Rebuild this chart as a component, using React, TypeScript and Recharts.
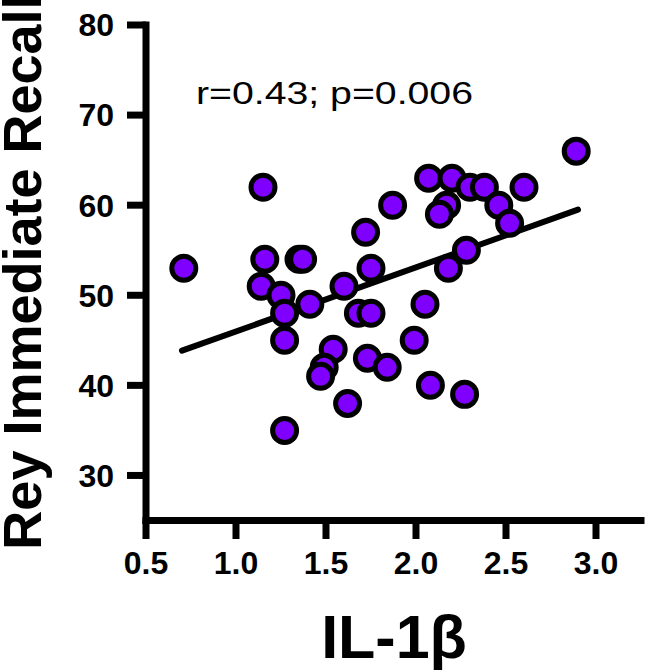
import React from "react";
import {
  ScatterChart,
  Scatter,
  XAxis,
  YAxis,
  Customized,
} from "recharts";

// IL-1β values (x) and Rey Immediate Recall scores (y)
const il1bValues = [
  1.15, 0.71, 1.16, 1.35, 1.37, 1.14, 1.25, 1.27, 1.27, 1.41,
  1.6, 1.72, 1.75, 1.68, 1.75, 1.54, 1.49, 1.47, 1.73, 1.62,
  1.27, 2.89, 2.07, 2.2, 2.3, 2.38, 2.6, 2.17, 2.13, 2.46,
  2.52, 1.87, 2.28, 2.18, 2.05, 1.99, 1.84, 2.08, 2.27,
];
const reyValues = [
  62, 53, 54, 54, 54, 51, 50, 48, 45, 49,
  51, 57, 53, 48, 48, 44, 42, 41, 43, 38,
  35, 66, 63, 63, 62, 62, 62, 60, 59, 60,
  58, 60, 55, 53, 49, 45, 42, 40, 39,
];

// Regression line end points
const fitX = [0.7, 2.9];
const fitY = [43.85, 59.5];

const xTicks = [0.5, 1.0, 1.5, 2.0, 2.5, 3.0];
const yTicks = [30, 40, 50, 60, 70, 80];

const points = il1bValues.map((x, i) => ({ x, y: reyValues[i] }));
const fitData = fitX.map((x, i) => ({ x, y: fitY[i] }));

const FONT = '"Liberation Sans", Arial, Helvetica, sans-serif';

const Dot = (props: any) => (
  <circle cx={props.cx} cy={props.cy} r={12} fill="#7f00ff" stroke="#000" strokeWidth={5} />
);

const Empty = () => <g />;

const Texts = () => (
  <g fontFamily={FONT}>
    <text
      x={196}
      y={103.5}
      fontSize={31}
      fill="#000"
      textLength={277}
      lengthAdjust="spacingAndGlyphs"
    >
      r=0.43; p=0.006
    </text>
    <text x={394} y={658} fontSize={61} fontWeight="bold" fill="#000" textAnchor="middle">
      IL-1β
    </text>
    <text
      x={41}
      y={272}
      fontSize={54}
      fontWeight="bold"
      fill="#000"
      textAnchor="middle"
      transform="rotate(-90 41 272)"
    >
      Rey Immediate Recall
    </text>
  </g>
);

const tickStyle = { fontSize: 32, fontWeight: "bold", fill: "#000", fontFamily: FONT };
const lineStyle = { stroke: "#000", strokeWidth: 7, strokeLinecap: "square" as const };

export default function App() {
  return (
    <div style={{ position: "absolute", left: 0, top: 0, background: "#fff" }}>
      <ScatterChart
        width={645}
        height={670}
        margin={{ top: 25, right: 4, left: 0, bottom: 0 }}
      >
        <XAxis
          type="number"
          dataKey="x"
          domain={[0.5, 3.25]}
          ticks={xTicks}
          tickFormatter={(v: number) => v.toFixed(1)}
          height={149.5}
          tickSize={18.5}
          tickMargin={12}
          tick={tickStyle}
          axisLine={lineStyle}
          tickLine={{ stroke: "#000", strokeWidth: 7 }}
          allowDataOverflow
        />
        <XAxis
          xAxisId="top"
          orientation="top"
          type="number"
          domain={[0.5, 3.25]}
          height={0}
          tick={false}
          tickLine={false}
          axisLine={lineStyle}
        />
        <YAxis
          type="number"
          dataKey="y"
          domain={[25, 80]}
          ticks={yTicks}
          width={146}
          tickSize={19}
          tickMargin={13}
          tick={tickStyle}
          axisLine={lineStyle}
          tickLine={{ stroke: "#000", strokeWidth: 7 }}
          allowDataOverflow
        />
        <YAxis
          yAxisId="right"
          orientation="right"
          type="number"
          domain={[25, 80]}
          width={0}
          tick={false}
          tickLine={false}
          axisLine={lineStyle}
        />
        <Scatter
          data={fitData}
          line={{ stroke: "#000", strokeWidth: 6, strokeLinecap: "round" }}
          shape={Empty}
          isAnimationActive={false}
        />
        <Scatter data={points} shape={Dot} isAnimationActive={false} />
        <Customized component={Texts} />
      </ScatterChart>
    </div>
  );
}
